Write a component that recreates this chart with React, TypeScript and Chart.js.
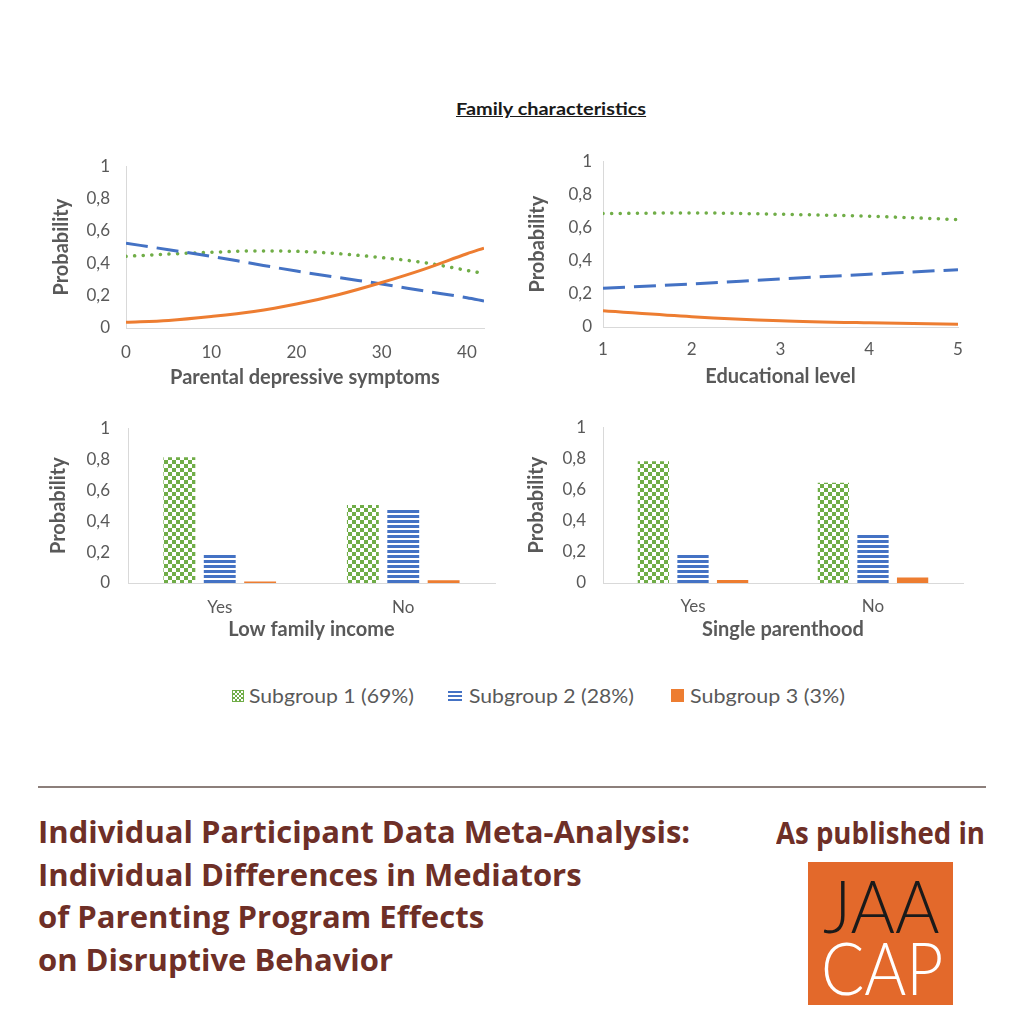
import React, { useEffect, useLayoutEffect, useRef } from "react";
import { Chart, registerables } from "chart.js";

Chart.register(...registerables);

// ---------- data ----------
const seriesNames = ["Subgroup 1 (69%)", "Subgroup 2 (28%)", "Subgroup 3 (3%)"];

const depressionX = [0, 5, 10, 15, 20, 25, 30, 35, 40, 42];
const depressionSub1 = [0.443, 0.457, 0.468, 0.476, 0.474, 0.459, 0.435, 0.404, 0.356, 0.337];
const depressionSub2 = [0.524, 0.484, 0.443, 0.397, 0.352, 0.311, 0.272, 0.229, 0.187, 0.167];
const depressionSub3 = [0.035, 0.047, 0.071, 0.102, 0.148, 0.207, 0.281, 0.364, 0.459, 0.494];
const depressionTicks = [0, 10, 20, 30, 40];

const educationX = [1, 2, 3, 4, 5];
const educationSub1 = [0.684, 0.688, 0.68, 0.668, 0.648];
const educationSub2 = [0.234, 0.26, 0.29, 0.318, 0.346];
const educationSub3 = [0.098, 0.062, 0.038, 0.025, 0.016];
const educationTicks = [1, 2, 3, 4, 5];

const binaryCategories = ["Yes", "No"];
const incomeSub1 = [0.813, 0.504];
const incomeSub2 = [0.184, 0.476];
const incomeSub3 = [0.01, 0.018];
const singleSub1 = [0.782, 0.643];
const singleSub2 = [0.188, 0.317];
const singleSub3 = [0.02, 0.036];

const yTicks = [0, 0.2, 0.4, 0.6, 0.8, 1];

// ---------- styles ----------
const GREEN = "#70AD47";
const BLUE = "#4472C4";
const ORANGE = "#ED7D31";
const AXIS_TEXT = "#595959";
const AXIS_LINE = "#D9D9D9";
const BROWN = "#6E2F27";
const FONT = "Lato, 'Open Sans', sans-serif";

function fmtTick(v: number) {
  const r = Math.round(v * 10) / 10;
  return String(r).replace(".", ",");
}

function checkerPattern() {
  const c = document.createElement("canvas");
  c.width = 8;
  c.height = 8;
  const g = c.getContext("2d")!;
  g.fillStyle = "#ffffff";
  g.fillRect(0, 0, 8, 8);
  g.fillStyle = GREEN;
  g.fillRect(0, 0, 4, 4);
  g.fillRect(4, 4, 4, 4);
  return g.createPattern(c, "repeat")!;
}

function stripePattern() {
  const c = document.createElement("canvas");
  c.width = 8;
  c.height = 5;
  const g = c.getContext("2d")!;
  g.fillStyle = "#ffffff";
  g.fillRect(0, 0, 8, 5);
  g.fillStyle = BLUE;
  g.fillRect(0, 0, 8, 3);
  return g.createPattern(c, "repeat")!;
}

type Geo = {
  yWidth: number;
  xHeight: number;
  padTop: number;
  padRight: number;
  yTickPad: number;
  yTitlePad: number;
  xTickPad: number;
  xTitlePad: number;
};

const TICK_FONT = { family: FONT, size: 17 };
const TITLE_FONT = { family: FONT, size: 20, weight: "bold" as const };

function yScale(geo: Geo) {
  return {
    min: 0,
    max: 1,
    afterBuildTicks: (s: any) => {
      s.ticks = yTicks.map((v) => ({ value: v }));
    },
    ticks: {
      color: AXIS_TEXT,
      font: TICK_FONT,
      padding: geo.yTickPad,
      callback: (v: any) => fmtTick(Number(v)),
    },
    grid: { display: false, drawTicks: false },
    border: { display: true, color: AXIS_LINE, width: 1 },
    title: {
      display: true,
      text: "Probability",
      color: AXIS_TEXT,
      font: TITLE_FONT,
      padding: { top: geo.yTitlePad, bottom: 0 },
    },
    afterFit: (s: any) => {
      s.width = geo.yWidth;
    },
  };
}

function xCommon(geo: Geo, title: string) {
  return {
    grid: { display: false, drawTicks: false },
    border: { display: true, color: AXIS_LINE, width: 1 },
    title: {
      display: true,
      text: title,
      color: AXIS_TEXT,
      font: TITLE_FONT,
      padding: { top: 0, bottom: geo.xTitlePad },
    },
    afterFit: (s: any) => {
      s.height = geo.xHeight;
    },
  };
}

function lineConfig(
  xs: number[],
  s1: number[],
  s2: number[],
  s3: number[],
  xMin: number,
  xMax: number,
  xTicks: number[],
  xTitle: string,
  geo: Geo
): any {
  const pts = (ys: number[]) => xs.map((x, i) => ({ x, y: ys[i] }));
  return {
    type: "line",
    data: {
      datasets: [
        {
          label: seriesNames[2],
          data: pts(s3),
          borderColor: ORANGE,
          borderWidth: 3,
          pointRadius: 0,
          cubicInterpolationMode: "monotone",
        },
        {
          label: seriesNames[1],
          data: pts(s2),
          borderColor: BLUE,
          borderWidth: 3,
          borderDash: [22, 9],
          pointRadius: 0,
          cubicInterpolationMode: "monotone",
        },
        {
          label: seriesNames[0],
          data: pts(s1),
          borderColor: GREEN,
          borderWidth: 3.5,
          borderDash: [0.1, 8.5],
          borderCapStyle: "round",
          pointRadius: 0,
          cubicInterpolationMode: "monotone",
        },
      ],
    },
    options: {
      animation: false,
      responsive: true,
      maintainAspectRatio: false,
      layout: { autoPadding: false, padding: { top: geo.padTop, right: geo.padRight, left: 0, bottom: 0 } },
      plugins: { legend: { display: false }, tooltip: { enabled: false } },
      scales: {
        x: {
          type: "linear",
          min: xMin,
          max: xMax,
          afterBuildTicks: (s: any) => {
            s.ticks = xTicks.map((v) => ({ value: v }));
          },
          ticks: {
            color: AXIS_TEXT,
            font: TICK_FONT,
            padding: geo.xTickPad,
          },
          ...xCommon(geo, xTitle),
        },
        y: yScale(geo),
      },
    },
  };
}

function barConfig(s1: number[], s2: number[], s3: number[], xTitle: string, geo: Geo): any {
  return {
    type: "bar",
    data: {
      labels: binaryCategories,
      datasets: [
        { label: seriesNames[0], data: s1, backgroundColor: checkerPattern(), borderWidth: 0 },
        { label: seriesNames[1], data: s2, backgroundColor: stripePattern(), borderWidth: 0 },
        { label: seriesNames[2], data: s3, backgroundColor: ORANGE, borderWidth: 0 },
      ],
    },
    options: {
      animation: false,
      responsive: true,
      maintainAspectRatio: false,
      layout: { autoPadding: false, padding: { top: geo.padTop, right: geo.padRight, left: 0, bottom: 0 } },
      plugins: { legend: { display: false }, tooltip: { enabled: false } },
      datasets: { bar: { categoryPercentage: 0.66, barPercentage: 0.79 } },
      scales: {
        x: {
          type: "category",
          ticks: {
            color: AXIS_TEXT,
            font: TICK_FONT,
            padding: geo.xTickPad,
          },
          ...xCommon(geo, xTitle),
        },
        y: yScale(geo),
      },
    },
  };
}

function ChartBox(props: { left: number; top: number; width: number; height: number; build: () => any }) {
  const ref = useRef<HTMLCanvasElement>(null);
  useEffect(() => {
    const chart = new Chart(ref.current!, props.build());
    return () => chart.destroy();
  }, []);
  return (
    <div style={{ position: "absolute", left: props.left, top: props.top, width: props.width, height: props.height }}>
      <canvas ref={ref} />
    </div>
  );
}

function FitText(props: {
  text: string;
  left: number;
  top: number;
  width: number;
  size: number;
  lh: number;
  color: string;
  weight?: number | string;
  family?: string;
  underline?: boolean;
}) {
  const ref = useRef<HTMLDivElement>(null);
  useLayoutEffect(() => {
    const el = ref.current!;
    el.style.transform = "none";
    const w = el.offsetWidth;
    if (w > 0) el.style.transform = `scaleX(${props.width / w})`;
  }, []);
  return (
    <div
      ref={ref}
      style={{
        position: "absolute",
        left: props.left,
        top: props.top,
        whiteSpace: "nowrap",
        fontFamily: props.family || FONT,
        fontSize: props.size,
        fontWeight: props.weight || 400,
        lineHeight: `${props.lh}px`,
        color: props.color,
        textDecoration: props.underline ? "underline" : "none",
        transformOrigin: "0 0",
      }}
    >
      {props.text}
    </div>
  );
}

const geoDep: Geo = { yWidth: 86, xHeight: 72, padTop: 19, padRight: 26, yTickPad: 16, yTitlePad: 10, xTickPad: 14, xTitlePad: 10 };
const geoEdu: Geo = { yWidth: 83, xHeight: 73, padTop: 21, padRight: 22, yTickPad: 11, yTitlePad: 6, xTickPad: 12, xTitlePad: 11 };
const geoInc: Geo = { yWidth: 88, xHeight: 67, padTop: 17, padRight: 15, yTickPad: 18, yTitlePad: 7, xTickPad: 14, xTitlePad: 8 };
const geoSgl: Geo = { yWidth: 83, xHeight: 67, padTop: 15, padRight: 17, yTickPad: 17, yTitlePad: 5, xTickPad: 13, xTitlePad: 8 };

const BOTTOM_FONT = "'Open Sans', sans-serif";

export default function App() {
  return (
    <div style={{ position: "absolute", left: 0, top: 0, width: 1024, height: 1024, background: "#ffffff", overflow: "hidden" }}>
      <FitText text="Family characteristics" left={456} top={98} width={190} size={17} lh={22} color="#1a1a1a" weight={700} underline />

      <ChartBox left={40} top={140} width={470} height={260}
        build={() => lineConfig(depressionX, depressionSub1, depressionSub2, depressionSub3, 0, 42, depressionTicks, "Parental depressive symptoms", geoDep)} />
      <ChartBox left={520} top={140} width={460} height={260}
        build={() => lineConfig(educationX, educationSub1, educationSub2, educationSub3, 1, 5, educationTicks, "Educational level", geoEdu)} />
      <ChartBox left={40} top={400} width={470} height={250}
        build={() => barConfig(incomeSub1, incomeSub2, incomeSub3, "Low family income", geoInc)} />
      <ChartBox left={520} top={400} width={460} height={250}
        build={() => barConfig(singleSub1, singleSub2, singleSub3, "Single parenthood", geoSgl)} />

      {/* legend */}
      <div style={{ position: "absolute", left: 232, top: 690, width: 10, height: 10, border: `1px solid ${GREEN}`,
        background: `repeating-conic-gradient(${GREEN} 0 25%, #ffffff 0 50%) 0 0 / 4px 4px` }} />
      <FitText text={seriesNames[0]} left={249} top={683} width={165} size={19} lh={26} color={AXIS_TEXT} />
      <div style={{ position: "absolute", left: 448, top: 691, width: 14, height: 10,
        background: `repeating-linear-gradient(to bottom, ${BLUE} 0 2px, #ffffff 2px 4px)` }} />
      <FitText text={seriesNames[1]} left={469} top={683} width={165} size={19} lh={26} color={AXIS_TEXT} />
      <div style={{ position: "absolute", left: 671, top: 689, width: 13, height: 13, background: ORANGE }} />
      <FitText text={seriesNames[2]} left={690} top={683} width={155} size={19} lh={26} color={AXIS_TEXT} />

      {/* footer */}
      <div style={{ position: "absolute", left: 38, top: 786, width: 948, height: 2, background: "#8C7F7B" }} />
      <FitText text="Individual Participant Data Meta-Analysis:" left={38} top={810} width={652} size={31} lh={43} color={BROWN} weight={700} family={BOTTOM_FONT} />
      <FitText text="Individual Differences in Mediators" left={38} top={853} width={544} size={31} lh={43} color={BROWN} weight={700} family={BOTTOM_FONT} />
      <FitText text="of Parenting Program Effects" left={38} top={895} width={446} size={31} lh={43} color={BROWN} weight={700} family={BOTTOM_FONT} />
      <FitText text="on Disruptive Behavior" left={38} top={938} width={355} size={31} lh={43} color={BROWN} weight={700} family={BOTTOM_FONT} />
      <FitText text="As published in" left={776} top={811} width={209} size={31} lh={43} color={BROWN} weight={700} family={BOTTOM_FONT} />

      <div style={{ position: "absolute", left: 808, top: 862, width: 145, height: 143, background: "#E3692B" }} />
      <FitText text="JAA" left={823} top={869} width={117} size={72} lh={72} color="#1a1a1a" weight={300} />
      <FitText text="CAP" left={821} top={931} width={122} size={72} lh={72} color="#ffffff" weight={300} />
    </div>
  );
}
